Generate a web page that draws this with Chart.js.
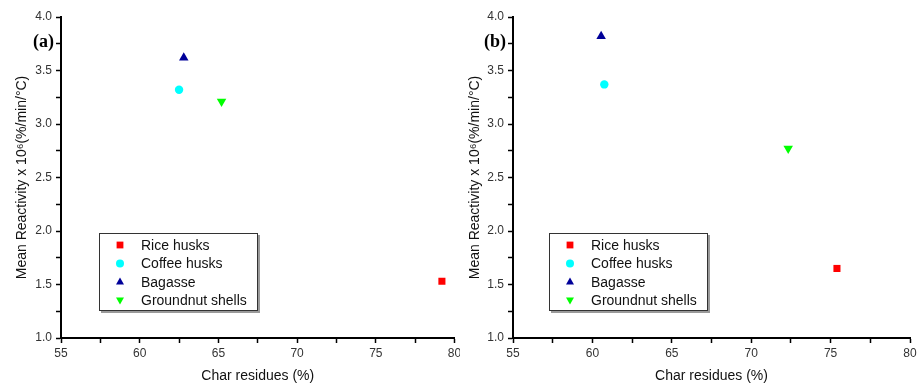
<!DOCTYPE html>
<html><head><meta charset="utf-8">
<script src="https://cdn.jsdelivr.net/npm/chart.js@4/dist/chart.umd.min.js"></script>
<style>
html,body{margin:0;padding:0;background:#fff;width:917px;height:386px;overflow:hidden;}
#wa{position:absolute;left:0;top:0;width:460px;height:386px;}
#wb{position:absolute;left:458px;top:0;width:459px;height:386px;}
</style></head><body>
<div id="wa"><canvas id="ca"></canvas></div>
<div id="wb"><canvas id="cb"></canvas></div>
<script>
const seriesNames = ['Rice husks', 'Coffee husks', 'Bagasse', 'Groundnut shells'];
const seriesColors = ['#ff0000', '#00ffff', '#000099', '#00ff00'];
const seriesStyles = ['rect', 'circle', 'triangle', 'triangle'];
const seriesRotation = [0, 0, 0, 180];
const charResiduesA = [79.2, 62.5, 62.8, 65.2];
const reactivityA = [1.53, 3.32, 3.62, 3.21];
const charResiduesB = [75.4, 60.75, 60.55, 72.33];
const reactivityB = [1.65, 3.37, 3.82, 2.77];
const xRange = [55, 80];
const yRange = [1.0, 4.0];
const xMajorStep = 5, yMajorStep = 0.5;
const xTitle = 'Char residues (%)';
const yTitle = 'Mean Reactivity x 10\u2076(%/min/\u00B0C)';

function drawMarker(ctx, style, rot, x, y, r, color) {
  ctx.save();
  ctx.fillStyle = color;
  ctx.translate(x, y);
  ctx.rotate(rot * Math.PI / 180);
  ctx.beginPath();
  if (style === 'rect') ctx.rect(-r * 0.85, -r * 0.85, r * 1.7, r * 1.7);
  else if (style === 'circle') ctx.arc(0, 0, r, 0, Math.PI * 2);
  else { ctx.moveTo(0, -r * 1.1); ctx.lineTo(r, r * 0.7); ctx.lineTo(-r, r * 0.7); ctx.closePath(); }
  ctx.fill();
  ctx.restore();
}

const panelPlugin = {
  id: 'panel',
  afterDraw(chart, args, opts) {
    const ctx = chart.ctx;
    ctx.save();
    ctx.font = 'bold 18px "Liberation Serif", "Times New Roman", serif';
    ctx.fillStyle = '#000';
    ctx.textBaseline = 'alphabetic';
    ctx.textAlign = 'left';
    ctx.fillText(opts.label, opts.labelX, 47);
    const lx = opts.legX, ly = 233, lw = 159, lh = 78;
    ctx.fillStyle = '#9a9a9a';
    ctx.fillRect(lx + 2, ly + 2, lw, lh);
    ctx.fillStyle = '#fff';
    ctx.fillRect(lx, ly, lw, lh);
    ctx.strokeStyle = '#333';
    ctx.lineWidth = 1;
    ctx.strokeRect(lx + 0.5, ly + 0.5, lw - 1, lh - 1);
    ctx.font = '14px "Liberation Sans", Arial, sans-serif';
    ctx.textBaseline = 'middle';
    chart.data.datasets.forEach((ds, i) => {
      const yy = ly + 12 + i * 18.4;
      drawMarker(ctx, seriesStyles[i], seriesRotation[i], lx + 21, yy, 4, seriesColors[i]);
      ctx.fillStyle = '#111';
      ctx.fillText(ds.label, lx + 42, yy + 1);
    });
    ctx.restore();
  }
};

function makeChart(id, xs, ys, yAxisWidth, padRight, label, labelX, legX, titlePad) {
  const datasets = seriesNames.map((n, i) => ({
    label: n,
    data: [{x: xs[i], y: ys[i]}],
    backgroundColor: seriesColors[i],
    borderColor: seriesColors[i],
    pointStyle: seriesStyles[i],
    rotation: seriesRotation[i],
    pointRadius: seriesStyles[i] === 'triangle' ? 5.5 : (seriesStyles[i] === 'rect' ? 5 : 4.2),
    pointBorderWidth: 0,
  }));
  return new Chart(document.getElementById(id), {
    type: 'scatter',
    data: { datasets },
    plugins: [panelPlugin],
    options: {
      responsive: true, maintainAspectRatio: false, animation: false,
      layout: { padding: { top: 17, right: padRight, left: 0, bottom: 0 } },
      plugins: {
        legend: { display: false }, tooltip: { enabled: false },
        panel: { label, labelX, legX }
      },
      scales: {
        x: {
          type: 'linear', min: xRange[0], max: xRange[1],
          afterFit(s) { s.height = 48; s.paddingLeft = 0; s.paddingRight = 0; },
          border: { display: true, color: '#000', width: 2 },
          grid: { drawOnChartArea: false, drawTicks: true, tickLength: 5, tickColor: '#000', tickWidth: 1.5 },
          ticks: {
            stepSize: xMajorStep / 2, autoSkip: false, maxRotation: 0, padding: 3,
            color: '#333', font: { family: '"Liberation Sans", Arial, sans-serif', size: 12 },
            callback: v => (Math.abs(v / xMajorStep - Math.round(v / xMajorStep)) < 1e-6 ? String(v) : '')
          },
          title: { display: true, text: xTitle, color: '#111',
            font: { family: '"Liberation Sans", Arial, sans-serif', size: 14 }, padding: { top: 0, bottom: 1 } }
        },
        y: {
          type: 'linear', min: yRange[0], max: yRange[1],
          afterFit(s) { s.width = yAxisWidth; s.paddingTop = 0; s.paddingBottom = 0; },
          border: { display: true, color: '#000', width: 2 },
          grid: { drawOnChartArea: false, drawTicks: true, tickLength: 5, tickColor: '#000', tickWidth: 1.5 },
          ticks: {
            stepSize: yMajorStep / 2, autoSkip: false, padding: 4,
            color: '#333', font: { family: '"Liberation Sans", Arial, sans-serif', size: 12 },
            callback: v => (Math.abs(v / yMajorStep - Math.round(v / yMajorStep)) < 1e-6 ? v.toFixed(1) : '')
          },
          title: { display: true, text: yTitle, color: '#111',
            font: { family: '"Liberation Sans", Arial, sans-serif', size: 14 }, padding: { top: titlePad, bottom: 0 } }
        }
      }
    }
  });
}

makeChart('ca', charResiduesA, reactivityA, 61, 3, '(a)', 33, 99, 14);
makeChart('cb', charResiduesB, reactivityB, 55, 7, '(b)', 26, 91, 9);
</script>
</body></html>
